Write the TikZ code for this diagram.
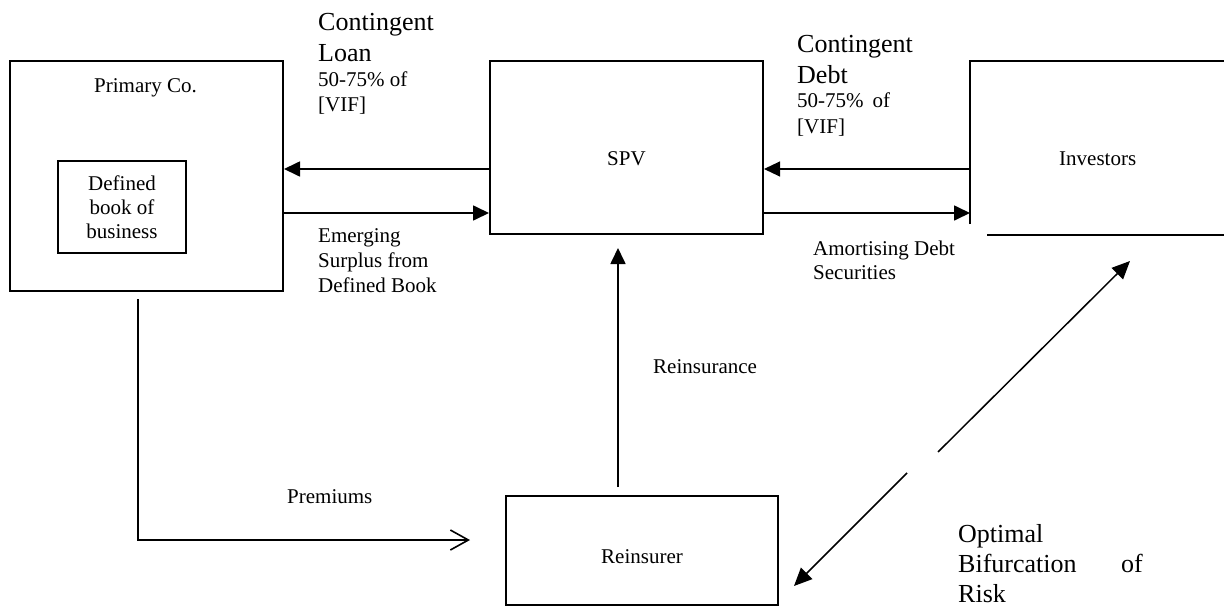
\documentclass[tikz,border=0pt]{standalone}
\usepackage{fontspec}
\setmainfont{Liberation Serif}
\usetikzlibrary{arrows.meta}
\begin{document}
\begin{tikzpicture}[x=1pt,y=-1pt,
  box/.style={draw, line width=2pt, inner sep=0pt},
  lbl/.style={font=\fontsize{21}{24}\selectfont, inner sep=0pt, anchor=base west},
  biglbl/.style={font=\fontsize{26}{30}\selectfont, inner sep=0pt, anchor=base west},
  conn/.style={line width=1.7pt, -{Triangle[length=16pt,width=15pt]}},
  thinconn/.style={line width=1.1pt, -{Triangle[length=16pt,width=15pt]}},
  openconn/.style={line width=1.6pt, -{Straight Barb[length=18pt,width=20pt,line width=1.6pt]}},
  diag/.style={line width=1.5pt, -{Triangle[length=18pt,width=16pt]}},
  edge/.style={line width=2pt}]
\useasboundingbox (0,0) rectangle (1224,608);

% boxes
\node[box, minimum width=273pt, minimum height=230pt] (prim) at (146.5,176) {};
\node[lbl] (primlbl) at (94,92) {Primary Co.};
\node[box, minimum width=128pt, minimum height=92pt, align=center,
      font=\fontsize{21}{24}\selectfont] (book) at (122,207) {Defined\\book of\\business};

\node[box, minimum width=273pt, minimum height=173pt] (spv) at (626.5,147.5) {};
\node[lbl] (spvlbl) at (607,165) {SPV};

\node[box, minimum width=272pt, minimum height=109pt] (reins) at (642,550.5) {};
\node[lbl] (reinslbl) at (601,563) {Reinsurer};

% investors (open box)
\coordinate (invTL) at (970,61);
\coordinate (invTR) at (1224,61);
\coordinate (invBL) at (970,224);
\coordinate (invB1) at (987,235);
\coordinate (invB2) at (1224,235);
\draw[edge] (invBL) -- (invTL) -- (invTR);
\draw[edge] (invB1) -- (invB2);
\node[lbl] (invlbl) at (1059,165) {Investors};

% primary <-> SPV
\draw[conn] (spv.west |- 0,169) -- (prim.east |- 0,169);
\draw[conn] (prim.east |- 0,213) -- (spv.west |- 0,213);

% SPV <-> investors
\coordinate (stub) at (939,169);
\draw[thinconn] (invTL |- stub) -- (spv.east |- stub);
\draw[edge] (stub) -- (invTL |- stub);
\draw[conn] (spv.east |- 0,213) -- (invTL |- 0,213);

% reinsurance
\coordinate (rs) at (618,487);
\coordinate (re) at (618,248);
\draw[conn] (rs) -- (re);

% premiums
\coordinate (p0) at (138,299);
\coordinate (p1) at (470,540);
\draw[openconn] (p0) |- (p1);

% diagonal arrows
\coordinate (d1s) at (938,452);
\coordinate (d1e) at (1130,261);
\coordinate (d2s) at (907,473);
\coordinate (d2e) at (794,586);
\draw[diag] (d1s) -- (d1e);
\draw[diag] (d2s) -- (d2e);

% labels
\node[biglbl] (cl1) at (318,30) {Contingent};
\node[biglbl] (cl2) at (318,61) {Loan};
\node[lbl] (cl3) at (318,86) {50-75\% of};
\node[lbl] (cl4) at (318,111) {[VIF]};

\node[biglbl] (cd1) at (797,52) {Contingent};
\node[biglbl] (cd2) at (797,83) {Debt};
\node[lbl] (cd3) at (797,107) {50-75\%\hspace{9pt}of};
\node[lbl] (cd4) at (797,133) {[VIF]};

\node[lbl] (em1) at (318,242) {Emerging};
\node[lbl] (em2) at (318,267) {Surplus from};
\node[lbl] (em3) at (318,292) {Defined Book};

\node[lbl] (am1) at (813,255) {Amortising Debt};
\node[lbl] (am2) at (813,279) {Securities};

\node[lbl] (prem) at (287,503) {Premiums};
\node[lbl] (reinsurance) at (653,373) {Reinsurance};

\node[biglbl] (ob1) at (958,542) {Optimal};
\node[biglbl] (ob2) at (958,572) {Bifurcation};
\node[biglbl, anchor=base east] (ob3) at (1143,572) {of};
\node[biglbl] (ob4) at (958,602) {Risk};
\end{tikzpicture}
\end{document}
